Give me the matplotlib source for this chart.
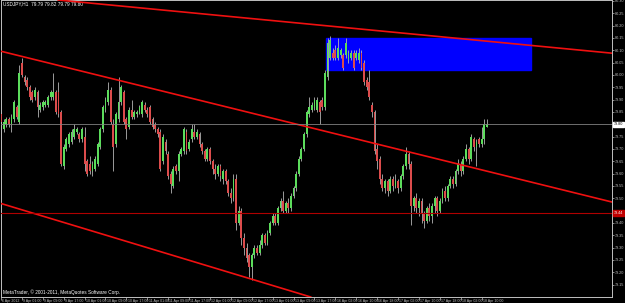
import numpy as np
import matplotlib
matplotlib.use("Agg")
import matplotlib.pyplot as plt
from matplotlib.patches import Rectangle
from matplotlib.transforms import blended_transform_factory

# USDJPY H1 candles, values in pips above 79.00 (first bar is 6 Apr, bar 0 = 9 Apr 01:00)
opens = [84, 78, 80, 82, 80, 82, 87, 81,
         105, 99, 98, 95, 93, 91, 93, 86, 87, 88,
         88, 91, 91, 93, 93, 85, 63, 70, 72, 73,
         75, 77, 76, 74, 75, 65, 64, 61, 62, 64,
         71, 78, 86, 89, 94, 80, 72, 82, 89, 93,
         82, 79, 86, 83, 84, 85, 84, 88, 86, 87,
         82, 80, 78, 77, 65, 73, 68, 60, 55, 63,
         61, 68, 69, 77, 70, 74, 77, 75, 76, 72,
         69, 66, 70, 65, 62, 60, 63, 58, 61, 57,
         52, 50, 58, 40, 45, 34, 30, 27, 22, 27,
         30, 28, 31, 35, 32, 36, 40, 43, 40, 46,
         49, 45, 48, 46, 51, 54, 60, 66, 70, 76,
         84, 86, 87, 86, 89, 90, 87, 99, 107, 109,
         110, 107, 108, 108, 108, 106, 107, 109, 107, 106,
         109, 105, 98, 97, 88, 85, 70, 66, 58, 54,
         57, 53, 58, 55, 57, 54, 59, 63, 68, 64,
         47, 50, 46, 49, 44, 41, 46, 43, 47, 50,
         45, 49, 53, 50, 55, 58, 56, 61, 64, 61,
         66, 70, 66, 74, 71, 74, 72, 74, 79]
highs = [85, 82, 83, 83, 84, 90, 88, 104,
         107, 100, 99, 96, 94, 95, 94, 89, 90, 90,
         92, 94, 101, 94, 97, 86, 72, 75, 77, 78,
         80, 79, 77, 79, 79, 66, 67, 65, 67, 73,
         79, 88, 91, 97, 95, 82, 85, 99, 96, 94,
         83, 87, 90, 86, 86, 88, 90, 89, 87, 88,
         83, 81, 79, 78, 76, 74, 69, 61, 63, 64,
         69, 71, 79, 78, 74, 80, 80, 78, 77, 73,
         70, 71, 71, 66, 64, 64, 64, 62, 62, 58,
         54, 60, 60, 47, 46, 36, 32, 28, 28, 31,
         31, 33, 36, 36, 37, 41, 44, 44, 47, 50,
         53, 49, 50, 52, 55, 61, 67, 71, 77, 86,
         91, 89, 91, 91, 90, 91, 102, 115, 116, 111,
         112, 115, 111, 109, 115, 110, 110, 110, 110, 111,
         110, 106, 99, 102, 89, 86, 72, 67, 60, 58,
         58, 59, 59, 60, 58, 60, 64, 71, 69, 65,
         51, 52, 50, 50, 45, 47, 48, 48, 51, 51,
         50, 54, 55, 56, 59, 59, 62, 66, 65, 67,
         72, 71, 76, 75, 74, 75, 79, 82, 82]
lows = [80, 77, 79, 79, 77, 81, 82, 80,
        99, 96, 94, 90, 89, 90, 83, 85, 86, 87,
        87, 90, 90, 84, 83, 63, 62, 69, 71, 72,
        74, 76, 73, 73, 61, 59, 60, 59, 61, 63,
        70, 77, 85, 88, 80, 61, 71, 81, 88, 80,
        74, 78, 82, 82, 83, 84, 83, 85, 83, 80,
        78, 77, 75, 61, 64, 68, 58, 52, 54, 60,
        57, 67, 68, 68, 69, 73, 74, 74, 71, 68,
        65, 65, 64, 60, 58, 59, 57, 56, 56, 51,
        48, 49, 37, 39, 31, 27, 24, 18, 17, 26,
        27, 27, 30, 31, 31, 35, 39, 39, 39, 45,
        44, 44, 44, 45, 50, 53, 59, 65, 69, 75,
        83, 85, 86, 85, 80, 86, 86, 98, 106, 106,
        106, 106, 107, 102, 107, 105, 106, 102, 106, 105,
        102, 96, 94, 90, 83, 68, 62, 56, 53, 52,
        51, 52, 53, 54, 52, 53, 58, 62, 62, 39,
        45, 44, 43, 40, 38, 40, 41, 40, 44, 43,
        44, 48, 49, 49, 54, 54, 55, 60, 59, 60,
        65, 64, 65, 69, 63, 71, 71, 72, 79]
closes = [81, 81, 82, 80, 83, 89, 83, 101,
          100, 97, 95, 91, 90, 94, 87, 88, 89, 89,
          91, 93, 93, 85, 84, 64, 71, 74, 76, 77,
          78, 78, 74, 78, 64, 60, 61, 64, 66, 72,
          78, 87, 90, 94, 81, 71, 84, 89, 95, 81,
          78, 86, 83, 85, 85, 87, 89, 86, 84, 81,
          79, 78, 76, 62, 75, 69, 59, 56, 62, 61,
          68, 70, 78, 69, 73, 78, 75, 77, 72, 69,
          66, 70, 65, 62, 60, 63, 59, 61, 57, 52,
          50, 58, 40, 45, 34, 30, 26, 22, 27, 30,
          28, 31, 35, 32, 36, 40, 43, 40, 46, 49,
          45, 48, 46, 51, 54, 60, 66, 70, 76, 85,
          87, 88, 90, 90, 85, 87, 101, 113, 114, 107,
          107, 111, 110, 103, 113, 109, 109, 103, 109, 109,
          103, 97, 95, 91, 85, 69, 65, 58, 54, 57,
          53, 58, 55, 57, 54, 59, 63, 68, 64, 47,
          50, 46, 49, 44, 41, 46, 43, 47, 50, 45,
          49, 53, 50, 55, 58, 56, 61, 64, 61, 66,
          70, 66, 75, 71, 73, 72, 74, 80, 80]

# time axis labels every 8 bars
date_labels = ["6 Apr 2012", "9 Apr 01:00", "9 Apr 09:00", "9 Apr 17:00",
               "10 Apr 01:00", "10 Apr 09:00", "10 Apr 17:00", "11 Apr 01:00",
               "11 Apr 09:00", "11 Apr 17:00", "12 Apr 01:00", "12 Apr 09:00",
               "12 Apr 17:00", "13 Apr 01:00", "13 Apr 09:00", "13 Apr 17:00",
               "16 Apr 02:00", "16 Apr 10:00", "16 Apr 18:00", "17 Apr 02:00",
               "17 Apr 10:00", "17 Apr 18:00", "18 Apr 02:00", "18 Apr 10:00"]
date_bars = [-8] + list(range(0, 184, 8))

price_ticks = np.round(np.arange(79.15, 80.301, 0.05), 2)

# drawn objects (bar, price)
upper_line = [(13.9, 80.304), (217.4, 80.097)]
middle_line = [(-8.3, 80.097), (221.3, 79.497)]
lower_line = [(-8.3, 79.480), (111.5, 79.097)]
box_bars = (116.3, 194.9)
box_prices = (80.02, 80.15)
level_price = 79.44
bid_price = 79.80
title = "USDJPY,H1  79.79 79.82 79.79 79.80"

narrow = ["Liberation Sans Narrow", "Liberation Sans", "DejaVu Sans"]

o = 79 + np.array(opens) / 100
h = 79 + np.array(highs) / 100
l = 79 + np.array(lows) / 100
c = 79 + np.array(closes) / 100
bars = np.arange(len(c)) - 8

fig = plt.figure(figsize=(6.25, 3.03), dpi=100, facecolor="black")
ax = fig.add_axes([1 / 625, 6 / 303, 611 / 625, 297 / 303], facecolor="black")
ax.set_xlim(-7.9, 225.9)
ax.set_ylim(79.10, 80.304)

ax.add_patch(Rectangle((box_bars[0], box_prices[0]), box_bars[1] - box_bars[0],
                       box_prices[1] - box_prices[0], color="#0000ff", zorder=1))

up = c >= o
body_h = np.maximum(np.abs(c - o), 0.004)
ax.vlines(bars, l, h, color="#b4b4b4", lw=0.6, zorder=2)
ax.bar(bars, body_h, bottom=np.minimum(o, c), width=0.7,
       color=np.where(up, "#5cdc5c", "#dc4c4c"), linewidth=0, zorder=3)

for line in (upper_line, middle_line, lower_line):
    ax.axline(line[0], line[1], color="#f01010", lw=1.2, zorder=4)
ax.axhline(level_price, color="#b00000", lw=0.8, zorder=4)
ax.axhline(bid_price, color="#808080", lw=0.6, zorder=4)

for s in ax.spines.values():
    s.set_color("#c0c0c0")
    s.set_linewidth(0.7)

# tick labels hidden under the two price boxes are left blank
covered = {f"{bid_price:.2f}", "79.45"}
ax.yaxis.tick_right()
ax.set_yticks(price_ticks)
ax.set_yticklabels(["" if f"{p:.2f}" in covered else f"{p:.2f}" for p in price_ticks],
                   family=narrow)
ax.tick_params(axis="y", colors="#c0c0c0", length=1.5, width=0.5, labelsize=2.7, pad=0.6)
ax.set_xticks(date_bars)
ax.tick_params(axis="x", colors="#c0c0c0", length=2, width=0.5, labelbottom=False)

tr = blended_transform_factory(ax.transData, ax.transAxes)
for b, lab in zip(date_bars, date_labels):
    ax.text(b + 0.5, -0.006, lab, transform=tr, ha="left", va="top",
            fontsize=2.6, color="#c0c0c0", clip_on=False, family=narrow)

tr_y = blended_transform_factory(ax.transAxes, ax.transData)
ax.text(1.003, bid_price, f"{bid_price:.2f}", transform=tr_y, va="center", ha="left",
        fontsize=2.7, color="black", zorder=6, clip_on=False, family=narrow,
        bbox=dict(boxstyle="square,pad=0.2", fc="white", ec="white"))
ax.text(1.003, level_price, f"{level_price:.2f}", transform=tr_y, va="center", ha="left",
        fontsize=2.7, color="white", zorder=6, clip_on=False, family=narrow,
        bbox=dict(boxstyle="square,pad=0.2", fc="#c00000", ec="#c00000"))

ax.text(0.004, 0.995, title, transform=ax.transAxes, ha="left", va="top",
        fontsize=3.4, color="white", family=narrow)
ax.text(0.004, 0.008, "MetaTrader, \u00a9 2001-2011, MetaQuotes Software Corp.",
        transform=ax.transAxes, ha="left", va="bottom", fontsize=3.4, color="white",
        family=narrow)

fig.savefig("out.png", dpi=100, facecolor="black")
